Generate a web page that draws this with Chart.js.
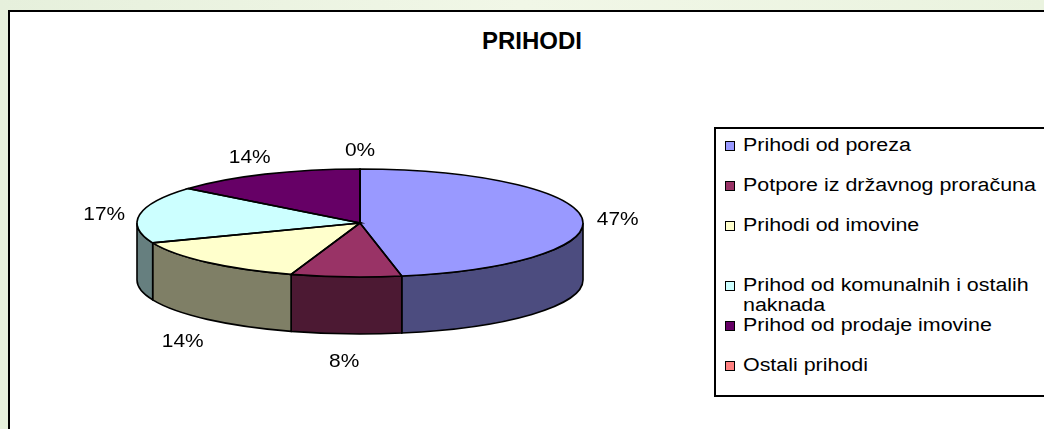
<!DOCTYPE html>
<html>
<head>
<meta charset="utf-8">
<script src="https://cdn.jsdelivr.net/npm/chart.js@4.4.0/dist/chart.umd.min.js"></script>
<style>
html, body { margin: 0; padding: 0; width: 1044px; height: 429px; overflow: hidden; }
body { position: relative; background: linear-gradient(90deg, #e6f0dc, #f1f7e7 50%, #eaf3df); font-family: "Liberation Sans", Arial, sans-serif; }
#frame { position: absolute; left: 8px; top: 10px; width: 1100px; height: 500px; border: 2px solid #000; background: #fff; }
#title { position: absolute; left: 0; top: 29px; width: 1064px; text-align: center; font-weight: bold; font-size: 24px; line-height: 24px; }
#wrap { position: absolute; left: 0; top: 0; width: 720px; height: 446px; }
#legend { position: absolute; left: 714px; top: 127px; width: 400px; height: 270px; border: 2px solid #000; background: #fff; padding-top: 6px; box-sizing: border-box; display: flex; flex-direction: column; }
.item { position: relative; margin-bottom: 20px; line-height: 20px; font-size: 18px; }
.sw { position: absolute; left: 9px; top: 6px; width: 8px; height: 8px; border: 1px solid #000; }
.tx { display: inline-block; margin-left: 27px; width: 255px; transform: scaleX(1.19); transform-origin: left center; }
</style>
</head>
<body>
<div id="frame"></div>
<div id="title">PRIHODI</div>
<div id="wrap"><canvas id="pie"></canvas></div>
<div id="legend"></div>
<script>
var labels = ['Prihodi od poreza', 'Potpore iz državnog proračuna', 'Prihodi od imovine',
  'Prihod od komunalnih i ostalih naknada', 'Prihod od prodaje imovine', 'Ostali prihodi'];
var shares = [47, 8, 14, 17, 14, 0];
var colors = ['#9999FF', '#993366', '#FFFFCC', '#CCFFFF', '#660066', '#FF8080'];

// darker tone for the side of the pie
function shade(hex) {
  var n = parseInt(hex.slice(1), 16);
  var r = (n >> 16) >> 1, g = ((n >> 8) & 255) >> 1, b = (n & 255) >> 1;
  return 'rgb(' + r + ',' + g + ',' + b + ')';
}

// html legend, excel style: a wrapped entry gets pushed down onto the next one
var legend = document.getElementById('legend');
labels.forEach(function (l, i) {
  var d = document.createElement('div');
  d.className = 'item';
  d.innerHTML = '<span class="sw" style="background:' + colors[i] + '"></span><span class="tx">' + l + '</span>';
  legend.appendChild(d);
  if (d.offsetHeight > 20) {
    d.style.marginTop = '20px';
    d.style.marginBottom = '0px';
  }
});

// flat pie tilted into an ellipse with a rim, like the old excel 3d pie
var pie3d = {
  id: 'pie3d',
  beforeDatasetsDraw: function (chart, args, opts) {
    var ctx = chart.ctx;
    var arcs = chart.getDatasetMeta(0).data;
    var cx = arcs[0].x, cy = arcs[0].y, r = arcs[0].outerRadius;
    var b = r * opts.tilt, d = opts.depth;
    ctx.lineWidth = opts.lineWidth;
    ctx.strokeStyle = '#000';
    arcs.forEach(function (arc, i) {
      var s = Math.max(arc.startAngle, 0), e = Math.min(arc.endAngle, Math.PI);
      if (e <= s) return;
      ctx.beginPath();
      ctx.ellipse(cx, cy, r, b, 0, s, e);
      ctx.ellipse(cx, cy + d, r, b, 0, e, s, true);
      ctx.closePath();
      ctx.fillStyle = shade(colors[i]);
      ctx.fill();
      ctx.stroke();
    });
    ctx.save();
    ctx.translate(cx, cy);
    ctx.scale(1, opts.tilt);
    ctx.translate(-cx, -cy);
  },
  afterDatasetsDraw: function (chart, args, opts) {
    var ctx = chart.ctx;
    ctx.restore();
    var arcs = chart.getDatasetMeta(0).data;
    var cx = arcs[0].x, cy = arcs[0].y, r = arcs[0].outerRadius;
    var b = r * opts.tilt, d = opts.depth;
    ctx.lineWidth = opts.lineWidth;
    ctx.strokeStyle = '#000';
    arcs.forEach(function (arc) {
      ctx.beginPath();
      ctx.moveTo(cx, cy);
      ctx.ellipse(cx, cy, r, b, 0, arc.startAngle, arc.endAngle);
      ctx.closePath();
      ctx.stroke();
    });
    var total = shares.reduce(function (a, v) { return a + v; }, 0);
    ctx.font = opts.font;
    ctx.fillStyle = '#000';
    ctx.textAlign = 'center';
    ctx.textBaseline = 'middle';
    arcs.forEach(function (arc, i) {
      var m = (arc.startAngle + arc.endAngle) / 2;
      var c = Math.cos(m), s = Math.sin(m);
      var txt = Math.round(shares[i] / total * 100) + '%';
      var w = ctx.measureText(txt).width * opts.stretch;
      var x = cx + (r + opts.gap) * c + w / 2 * c;
      var y = cy + (b + opts.gap) * s + 7 * s + (s > 0 ? d + 5 : 3);
      ctx.save();
      ctx.translate(x, y + 1);
      ctx.scale(opts.stretch, 1);
      ctx.fillText(txt, 0, 0);
      ctx.restore();
    });
  }
};

new Chart(document.getElementById('pie'), {
  type: 'pie',
  data: {
    labels: labels,
    datasets: [{
      data: shares,
      backgroundColor: colors,
      borderWidth: 0,
      hoverOffset: 0
    }]
  },
  options: {
    responsive: true,
    maintainAspectRatio: false,
    animation: false,
    events: [],
    layout: { padding: { left: 137, right: 137 } },
    plugins: {
      legend: { display: false },
      tooltip: { enabled: false },
      pie3d: { tilt: 54 / 223, depth: 57, lineWidth: 1.6, gap: 15, stretch: 1.1, font: '19px "Liberation Sans", Arial, sans-serif' }
    }
  },
  plugins: [pie3d]
});
</script>
</body>
</html>
